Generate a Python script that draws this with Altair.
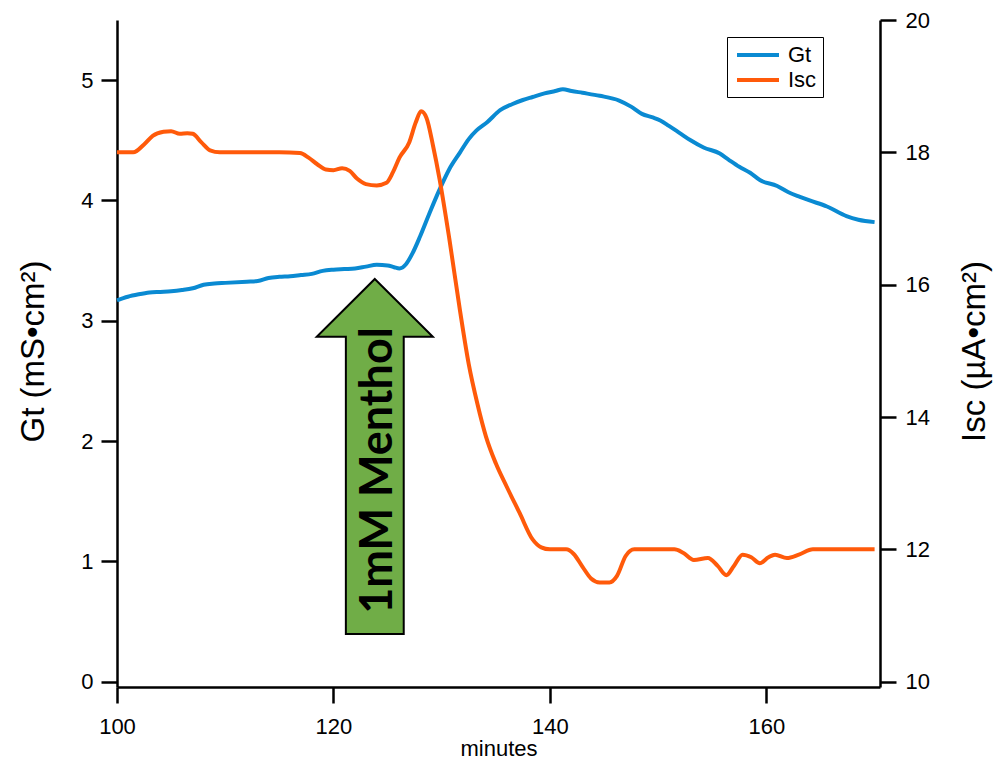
import altair as alt
import pandas as pd

# ---------------- data ----------------
gt_time = [100, 101, 102, 103, 104, 105, 106, 107, 108, 109, 110, 112, 113, 114, 115,
           116, 117, 118, 119, 120, 121, 122, 123, 124, 125, 125.6, 126.1, 126.7, 127.3,
           128, 128.9, 129.8, 130.7, 131.7, 132.5, 133.2, 134.2, 135.4, 136.5, 137.5,
           138.4, 139.5, 140.5, 141.2, 142, 143, 144.6, 146.4, 147.5, 148.5, 149.5,
           150.2, 151, 152, 153, 154.2, 155.7, 156.5, 157.5, 158.5, 159.4, 161, 162,
           163.1, 164, 165.6, 167.4, 168.5, 170]
gt_values = [3.17, 3.20, 3.22, 3.235, 3.24, 3.245, 3.255, 3.27, 3.30, 3.31, 3.315, 3.325,
             3.33, 3.355, 3.365, 3.37, 3.38, 3.39, 3.415, 3.425, 3.43, 3.435, 3.45, 3.465,
             3.46, 3.445, 3.435, 3.47, 3.56, 3.70, 3.90, 4.09, 4.26, 4.40, 4.51, 4.58,
             4.65, 4.75, 4.80, 4.835, 4.86, 4.89, 4.91, 4.925, 4.91, 4.895, 4.87, 4.83,
             4.78, 4.72, 4.69, 4.665, 4.62, 4.56, 4.50, 4.44, 4.39, 4.34, 4.28, 4.23,
             4.17, 4.12, 4.07, 4.03, 4.00, 3.95, 3.87, 3.84, 3.82]

isc_time = [100, 101.5, 102.5, 103.3, 104.3, 105, 105.8, 106.5, 107, 107.8, 108.6, 109.5,
            112, 115, 116.9, 117.7, 118.5, 119.3, 120, 120.8, 121.5, 122.2, 123, 124,
            124.9, 125.5, 126.1, 127, 127.6, 128.1, 128.6, 129.2, 129.8, 130.7, 131.7,
            132.5, 133.3, 134.1, 135, 136, 137.2, 138.4, 139.2, 140, 141.5, 142.2, 143,
            143.8, 144.6, 145.5, 146.2, 147, 147.8, 149, 151.5, 152.3, 153.3, 154.6,
            155.5, 156.3, 157, 157.8, 158.6, 159.4, 160.2, 160.8, 161.9, 163, 164.3,
            167, 170]
isc_values = [18.0, 18.0, 18.12, 18.25, 18.31, 18.32, 18.28, 18.29, 18.28, 18.15, 18.03,
              18.0, 18.0, 18.0, 17.99, 17.92, 17.82, 17.74, 17.73, 17.76, 17.72, 17.6,
              17.52, 17.5, 17.54, 17.7, 17.92, 18.15, 18.45, 18.62, 18.52, 18.1, 17.6,
              16.7, 15.6, 14.8, 14.2, 13.7, 13.3, 12.95, 12.55, 12.15, 12.03, 12.0, 12.0,
              11.93, 11.74, 11.56, 11.5, 11.5, 11.6, 11.9, 12.0, 12.0, 12.0, 11.95, 11.84,
              11.87, 11.75, 11.61, 11.75, 11.92, 11.88, 11.79, 11.88, 11.92, 11.87, 11.92,
              12.0, 12.0, 12.0]

series_names = ["Gt", "Isc"]
series_colors = ["#0A8AD2", "#FF5A0A"]
x_ticks = [100, 120, 140, 160]
gt_ticks = [0, 1, 2, 3, 4, 5]
isc_ticks = [10, 12, 14, 16, 18, 20]
annotation_label = "1mM Menthol"

gt_df = pd.DataFrame({"t": gt_time, "Gt": gt_values})
isc_df = pd.DataFrame({"t": isc_time, "Isc": isc_values})

# annotation anchor (data coordinates)
arrow_df = pd.DataFrame({"t": [123.82], "Gt": [1.872]})
label_df = pd.DataFrame({"t": [125.39], "Gt": [1.756], "label": [annotation_label]})

FONT = "Liberation Sans"
W, H = 763, 667

x_scale = alt.Scale(domain=[100, 170.5], nice=False, zero=False)
x_axis = alt.Axis(values=x_ticks, title="minutes", titleFontSize=22, titleFontWeight="normal",
                  titleY=68, titleBaseline="alphabetic", labelPadding=13, labelFlush=False,
                  format="d")

color_scale = alt.Scale(domain=series_names, range=series_colors)
arrow_path = ("M0,-1 L0.327,-0.675 L0.163,-0.675 L0.163,1 L-0.163,1 "
              "L-0.163,-0.675 L-0.327,-0.675 Z")

legend = alt.Legend(orient="none", legendX=610, legendY=17, title=None,
                    symbolType="M-0.8,0H3.4", symbolSize=400, symbolStrokeWidth=4,
                    labelFont=FONT, labelFontSize=22, labelColor="black",
                    labelOffset=31, padding=6, rowPadding=2,
                    strokeColor="black", fillColor="white")

gt_line = alt.Chart(gt_df).mark_line(strokeWidth=4, interpolate="monotone").encode(
    x=alt.X("t:Q", scale=x_scale, axis=x_axis),
    y=alt.Y("Gt:Q", scale=alt.Scale(domain=[-0.044, 5.5], nice=False, zero=False),
            axis=alt.Axis(values=gt_ticks, format="d", title="Gt (mS•cm²)", orient="left",
                          titleAngle=270, titleX=-74, titleY=331, titleAlign="center",
                          titleBaseline="alphabetic", titleFontSize=33,
                          titleFontWeight="normal", labelPadding=8, labelFlush=False)),
    color=alt.Color("s:N", scale=color_scale, legend=legend),
).transform_calculate(s="'Gt'")

arrow = alt.Chart(arrow_df).mark_point(
    shape=arrow_path, size=126025, filled=True, fill="#70AD47", stroke="black",
    strokeWidth=2, opacity=1
).encode(x=alt.X("t:Q"), y=alt.Y("Gt:Q"))

label = alt.Chart(label_df).mark_text(
    angle=270, align="center", baseline="alphabetic", font="Lato", fontWeight="bold",
    fontSize=45, color="black"
).encode(x=alt.X("t:Q"), y=alt.Y("Gt:Q"), text="label:N")

left = alt.layer(gt_line, arrow, label)

isc_line = alt.Chart(isc_df).mark_line(strokeWidth=4, interpolate="monotone").encode(
    x=alt.X("t:Q", scale=x_scale, axis=x_axis),
    y=alt.Y("Isc:Q", scale=alt.Scale(domain=[9.92, 20], nice=False, zero=False),
            axis=alt.Axis(values=isc_ticks, format="d", title="Isc (µA•cm²)", orient="right",
                          titleAngle=270, titleX=104, titleY=331, titleAlign="center",
                          titleBaseline="alphabetic", titleFontSize=33,
                          titleFontWeight="normal", labelPadding=9, labelFlush=False)),
    color=alt.Color("s:N", scale=color_scale, legend=legend),
).transform_calculate(s="'Isc'")

chart = alt.layer(left, isc_line).resolve_scale(y="independent").properties(
    width=W, height=H,
    autosize=alt.AutoSizeParams(type="none"),
    padding={"left": 109, "top": 12, "right": 117, "bottom": 75},
).configure_view(stroke=None).configure_axis(
    domainColor="black", domainWidth=2.5, tickColor="black", tickWidth=2.5,
    tickSize=16, grid=False, labelFont=FONT, labelFontSize=22, labelColor="black",
    titleFont=FONT, titleColor="black",
)

chart.save("out.html", embed_options={"renderer": "svg", "actions": False})
